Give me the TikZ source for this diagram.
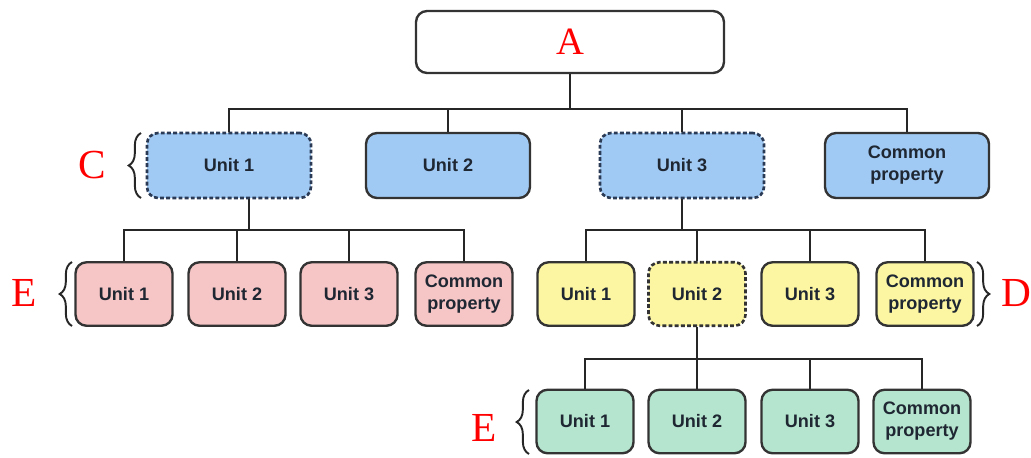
\documentclass[tikz,border=0pt]{standalone}
\usepackage{fontspec}
\setmainfont{Liberation Serif}
\setsansfont{Liberation Sans}
\usetikzlibrary{decorations.pathreplacing}
\definecolor{unitblue}{HTML}{A0C9F3}
\definecolor{unitpink}{HTML}{F6C5C5}
\definecolor{unityellow}{HTML}{FCF6A2}
\definecolor{unitgreen}{HTML}{B5E5CE}
\definecolor{edgeblue}{HTML}{2B3B55}
\definecolor{textdark}{HTML}{1F2733}
\begin{document}
\begin{tikzpicture}[x=0.02cm,y=-0.02cm,
    box/.style={draw=black!80,line width=1.35pt,rounded corners=0.22cm,align=center,inner sep=0pt,
      font=\sffamily\bfseries\fontsize{10.3}{12.5}\selectfont,text=textdark},
    topbox/.style={box,minimum width=6.16cm,minimum height=1.24cm,fill=white},
    bigbox/.style={box,minimum width=3.28cm,minimum height=1.3cm,fill=unitblue},
    smallbox/.style={box,minimum width=1.94cm,minimum height=1.27cm},
    dashedge/.style={draw=edgeblue,line width=1.5pt,dash pattern=on 2.2pt off 1.3pt},
    wire/.style={line width=1.1pt,black!85},
    letter/.style={text=red,font=\rmfamily\fontsize{23.5}{26}\selectfont},
    curly/.style={decorate,decoration={brace,amplitude=7pt},line width=1.1pt,black!85}]
    \useasboundingbox (0,0) rectangle (1031,457);
    \node[topbox,font=\rmfamily\fontsize{22}{26}\selectfont,text=red] (A) at (570,42) {A};
    \node[bigbox,dashedge] (c1) at (229,165.5) {Unit 1};
    \node[bigbox] (c2) at (448,165.5) {Unit 2};
    \node[bigbox,dashedge] (c3) at (682,165.5) {Unit 3};
    \node[bigbox] (c4) at (907,165.5) {Common\\property};
    \node[smallbox,fill=unitpink] (p1) at (124,294) {Unit 1};
    \node[smallbox,fill=unitpink] (p2) at (237,294) {Unit 2};
    \node[smallbox,fill=unitpink] (p3) at (349,294) {Unit 3};
    \node[smallbox,fill=unitpink] (p4) at (464,294) {Common\\property};
    \node[smallbox,fill=unityellow] (y1) at (586,294) {Unit 1};
    \node[smallbox,fill=unityellow,dashedge,draw=black!80] (y2) at (697,294) {Unit 2};
    \node[smallbox,fill=unityellow] (y3) at (810,294) {Unit 3};
    \node[smallbox,fill=unityellow] (y4) at (925,294) {Common\\property};
    \node[smallbox,fill=unitgreen] (g1) at (585,421.5) {Unit 1};
    \node[smallbox,fill=unitgreen] (g2) at (697,421.5) {Unit 2};
    \node[smallbox,fill=unitgreen] (g3) at (810,421.5) {Unit 3};
    \node[smallbox,fill=unitgreen] (g4) at (922,421.5) {Common\\property};
    \foreach \n in {c1,c2,c3,c4}
        \draw[wire] (A.south) -- ++(0,35) -| (\n.north);
    \foreach \n in {p1,p2,p3,p4}
        \draw[wire] ([xshift=0.4cm]c1.south) -- ++(0,31) -| (\n.north);
    \foreach \n in {y1,y2,y3,y4}
        \draw[wire] (c3.south) -- ++(0,31) -| (\n.north);
    \foreach \n in {g1,g2,g3,g4}
        \draw[wire] (y2.south) -- ++(0,32) -| (\n.north);
    \node[letter] (lc) at (92,165) {C};
    \node[letter] (le) at (24,293) {E};
    \node[letter] (ld) at (1016,293) {D};
    \node[letter] (lg) at (484,428) {E};
    \draw[curly] (141,198) -- (141,133);
    \draw[curly] (72,326) -- (72,262);
    \draw[curly] (977,262) -- (977,326);
    \draw[curly] (529,454) -- (529,390);
\end{tikzpicture}
\end{document}
